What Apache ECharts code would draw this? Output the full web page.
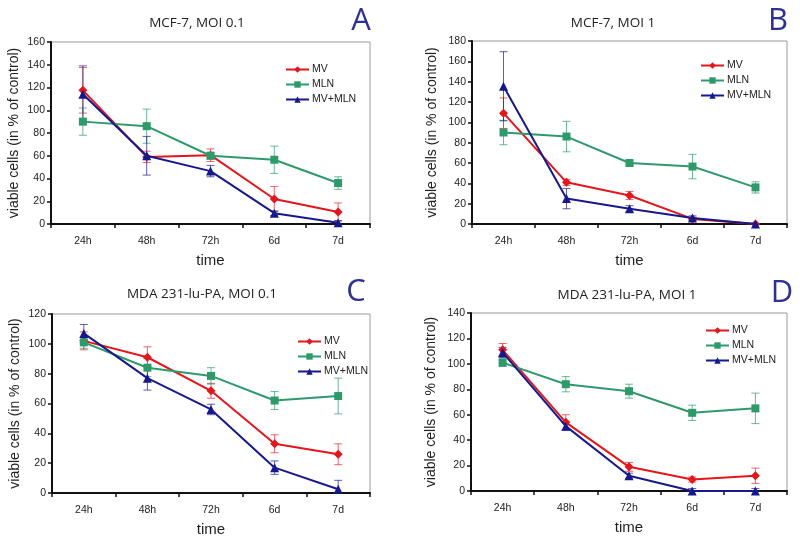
<!DOCTYPE html>
<html><head><meta charset="utf-8">
<script src="https://cdn.jsdelivr.net/npm/echarts@6/dist/echarts.min.js"></script>
<style>html,body{margin:0;padding:0;background:#fff}#c{width:800px;height:543px}</style>
</head><body><div id="c"></div>
<script>
const categories = ['24h', '48h', '72h', '6d', '7d'];
const seriesNames = ['MV', 'MLN', 'MV+MLN'];

// Panel A: MCF-7, MOI 0.1
const a_MV = [117.5, 59, 60.5, 22, 10.5];
const a_MV_err = [20, 5, 5.5, 11, 8];
const a_MLN = [90, 86, 60, 56.5, 36];
const a_MLN_err = [12, 15, 3, 12, 5.5];
const a_MVMLN = [114, 60, 46.5, 9.5, 1];
const a_MVMLN_err = [25, 17, 5, 2, 2];

// Panel B: MCF-7, MOI 1
const b_MV = [109, 41, 28, 5, 0];
const b_MV_err = [15, 3, 4, 1.5, 0.5];
const b_MLN = [90, 86, 60, 56.5, 36];
const b_MLN_err = [12, 15, 2, 12, 5.5];
const b_MVMLN = [135.5, 25, 15, 6, 0];
const b_MVMLN_err = [34, 10, 3, 2, 0.5];

// Panel C: MDA 231-lu-PA, MOI 0.1
const c_MV = [102, 91, 68.5, 33, 26];
const c_MV_err = [6, 7, 5, 6, 7];
const c_MLN = [101, 84, 78.5, 62, 65];
const c_MLN_err = [4, 6, 5.5, 6, 12];
const c_MVMLN = [107, 77, 56, 17, 2.5];
const c_MVMLN_err = [6, 8, 3.5, 4.5, 6];

// Panel D: MDA 231-lu-PA, MOI 1
const d_MV = [111, 54, 19, 9, 12];
const d_MV_err = [5, 6, 3.5, 2, 6];
const d_MLN = [101, 84, 78.5, 61.5, 65];
const d_MLN_err = [3, 6, 5.5, 6, 12];
const d_MVMLN = [109, 51, 12, 0, 0];
const d_MVMLN_err = [4, 3, 2, 2, 2];

const yMax = [160, 180, 120, 140];
const titles = ['MCF-7, MOI 0.1', 'MCF-7, MOI 1', 'MDA 231-lu-PA, MOI 0.1', 'MDA 231-lu-PA, MOI 1'];
const letters = ['A', 'B', 'C', 'D'];

const panels = [
  [[a_MV, a_MV_err], [a_MLN, a_MLN_err], [a_MVMLN, a_MVMLN_err]],
  [[b_MV, b_MV_err], [b_MLN, b_MLN_err], [b_MVMLN, b_MVMLN_err]],
  [[c_MV, c_MV_err], [c_MLN, c_MLN_err], [c_MVMLN, c_MVMLN_err]],
  [[d_MV, d_MV_err], [d_MLN, d_MLN_err], [d_MVMLN, d_MVMLN_err]]
];

const colors = ['#e3161c', '#2e9a6b', '#16198c'];
const errColors = ['rgba(227,22,28,0.65)', 'rgba(46,154,107,0.7)', 'rgba(22,25,140,0.7)'];
const symbols = ['diamond', 'rect', 'triangle'];
const symbolSizes = [9, 8, 9];

const grids = [
  {left: 51, top: 42, width: 319, height: 182},
  {left: 472, top: 41, width: 315, height: 183},
  {left: 52, top: 314, width: 318, height: 179},
  {left: 471, top: 313, width: 316, height: 178}
];
const legendPos = [
  {left: 280, top: 59},
  {left: 695, top: 55},
  {left: 292, top: 331},
  {left: 700, top: 320}
];
const titlePos = [[197, 23], [613, 23], [202, 294], [627, 295]];
const letterPos = [[361, 21], [778, 21], [356, 292], [782, 293]];
const yNameGap = [30, 33, 30, 33];

function errRender(params, api) {
  const x = api.value(0), lo = api.value(1), hi = api.value(2);
  const p1 = api.coord([x, hi]);
  const p2 = api.coord([x, lo]);
  const w = 4;
  const style = {stroke: api.visual('color'), lineWidth: 1};
  return {type: 'group', children: [
    {type: 'line', shape: {x1: p1[0], y1: p1[1], x2: p2[0], y2: p2[1]}, style: style},
    {type: 'line', shape: {x1: p1[0] - w, y1: p1[1], x2: p1[0] + w, y2: p1[1]}, style: style},
    {type: 'line', shape: {x1: p2[0] - w, y1: p2[1], x2: p2[0] + w, y2: p2[1]}, style: style}
  ]};
}

const fontAxis = 'Liberation Sans, Arial, sans-serif';
const fontTitle = 'Open Sans, sans-serif';

const option = {
  animation: false,
  backgroundColor: '#fff',
  grid: grids.map(g => Object.assign({show: true, borderColor: '#9a9a9a', borderWidth: 1, containLabel: false}, g)),
  xAxis: grids.map((g, i) => ({
    type: 'category', gridIndex: i, data: categories, boundaryGap: true,
    name: 'time', nameLocation: 'middle', nameGap: 29,
    nameTextStyle: {fontSize: 15, color: '#222', fontFamily: fontAxis},
    axisLine: {lineStyle: {color: '#111', width: 2}},
    axisTick: {show: true, length: 4, lineStyle: {color: '#111', width: 1.5}},
    axisLabel: {fontSize: 10.5, color: '#222', fontFamily: fontAxis, margin: 12},
    splitLine: {show: false}
  })),
  yAxis: grids.map((g, i) => ({
    type: 'value', gridIndex: i, min: 0, max: yMax[i], interval: 20,
    name: 'viable cells (in % of control)', nameLocation: 'middle', nameGap: yNameGap[i],
    nameTextStyle: {fontSize: 14, color: '#222', fontFamily: fontAxis},
    axisLine: {show: true, lineStyle: {color: '#111', width: 2}},
    axisTick: {show: true, length: 4, lineStyle: {color: '#111', width: 1.5}},
    axisLabel: {fontSize: 10.5, color: '#222', fontFamily: fontAxis, margin: 6},
    splitLine: {show: false}
  })),
  legend: legendPos.map(p => ({
    left: p.left, top: p.top, orient: 'vertical', data: seriesNames,
    itemWidth: 23, itemHeight: 8, itemGap: 4,
    textStyle: {fontSize: 10.5, color: '#222', fontFamily: fontAxis, padding: [0, 0, 0, -2]}
  })),
  graphic: [],
  series: []
};

titles.forEach((t, i) => {
  option.graphic.push({type: 'text', silent: true, x: titlePos[i][0], y: titlePos[i][1],
    style: {text: t, fontSize: 13.5, fontFamily: fontTitle, fill: '#222', align: 'center', verticalAlign: 'middle'}});
  option.graphic.push({type: 'text', silent: true, x: letterPos[i][0], y: letterPos[i][1],
    style: {text: letters[i], fontSize: 31, fontFamily: fontTitle, fill: '#2e3192', align: 'center', verticalAlign: 'middle'}});
});

panels.forEach((panel, pi) => {
  panel.forEach((pair, si) => {
    const vals = pair[0], errs = pair[1];
    option.series.push({
      type: 'custom', name: 'err_' + pi + '_' + si, xAxisIndex: pi, yAxisIndex: pi,
      renderItem: errRender, itemStyle: {color: errColors[si]}, z: 1,
      encode: {x: 0, y: [1, 2]},
      data: vals.map((v, k) => [k, Math.max(0, v - errs[k]), v + errs[k]])
    });
  });
  panel.forEach((pair, si) => {
    option.series.push({
      type: 'line', name: seriesNames[si], xAxisIndex: pi, yAxisIndex: pi,
      data: pair[0], symbol: symbols[si], symbolSize: symbolSizes[si], showSymbol: true,
      itemStyle: {color: colors[si]}, lineStyle: {color: colors[si], width: 2}, z: 3 + si
    });
  });
});

const chart = echarts.init(document.getElementById('c'), null, {renderer: 'canvas'});
chart.setOption(option);
</script></body></html>
